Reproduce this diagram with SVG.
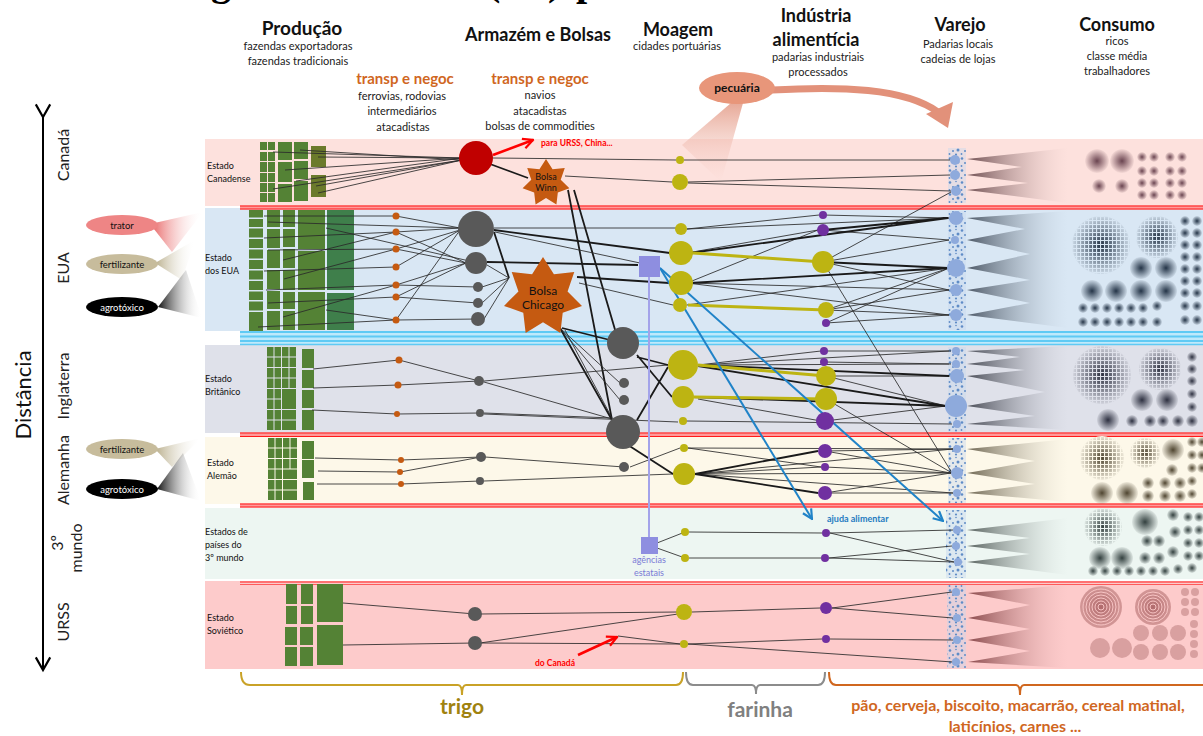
<svg xmlns="http://www.w3.org/2000/svg" width="1203" height="736" viewBox="0 0 1203 736">
<style>
  text { font-family: Lato, "Open Sans", "Liberation Sans", sans-serif; fill: #111; }
  .h { font-size: 18px; font-weight: bold; text-anchor: middle; }
  .s { font-size: 11px; text-anchor: middle; fill: #222; }
  .tn { font-size: 15px; font-weight: bold; text-anchor: middle; fill: #d0671f; }
  .st { font-size: 9px; fill: #111; }
  .cty { font-size: 16px; text-anchor: middle; fill: #222; }
  .ttl { font-family: "Liberation Serif", serif; font-size: 40px; font-weight: bold; fill: #000; }
  .f { fill: #548235; }
  .fd { fill: #3f7f4b; }
  .fo { fill: #6b7a2b; }
  .l { stroke: #2a2a2a; stroke-width: 1; fill: none; stroke-opacity: 0.85; }
  .m { stroke: #1a1a1a; stroke-width: 1.8; fill: none; }
  .ol { stroke: #bdb412; stroke-width: 3; fill: none; }
  .bl { stroke: #2083c8; stroke-width: 2; fill: none; }
  .gr { fill: #595959; }
  .od { fill: #c55a11; }
  .ov { fill: #bdb412; }
  .pu { fill: #7030a0; }
  .bv { fill: #8eaadc; }
  .ag { fill: #8e8ee0; }
</style>
<defs>
  <polygon id="star" points="0,-10 2.73,-5.68 7.82,-6.23 6.14,-1.4 9.75,2.22 4.93,3.93 4.34,9.01 0,6.3 -4.34,9.01 -4.93,3.93 -9.75,2.22 -6.14,-1.4 -7.82,-6.23 -2.73,-5.68"/>
  <pattern id="speck" width="12" height="12" patternUnits="userSpaceOnUse">
    <rect width="12" height="12" fill="#c9d8ee" opacity="0.45"/>
    <circle cx="2" cy="2.5" r="1.3" fill="#5f8cc6"/>
    <circle cx="8" cy="1.5" r="0.8" fill="#5f8cc6"/>
    <circle cx="10" cy="6" r="1.5" fill="#5f8cc6"/>
    <circle cx="5" cy="7" r="1" fill="#5f8cc6"/>
    <circle cx="1.5" cy="10" r="0.9" fill="#5f8cc6"/>
    <circle cx="8" cy="10.5" r="1.1" fill="#5f8cc6"/>
  </pattern>
  <linearGradient id="wCa" x1="0" x2="1" y1="0" y2="0"><stop offset="0" stop-color="#6f4f52"/><stop offset="1" stop-color="#fde1dd" stop-opacity="0.2"/></linearGradient>
  <linearGradient id="wUs" x1="0" x2="1" y1="0" y2="0"><stop offset="0" stop-color="#4d5866"/><stop offset="1" stop-color="#d9e7f4" stop-opacity="0.2"/></linearGradient>
  <linearGradient id="wUk" x1="0" x2="1" y1="0" y2="0"><stop offset="0" stop-color="#4a4d57"/><stop offset="1" stop-color="#dfe1ea" stop-opacity="0.2"/></linearGradient>
  <linearGradient id="wDe" x1="0" x2="1" y1="0" y2="0"><stop offset="0" stop-color="#6e6652"/><stop offset="1" stop-color="#fdf8e9" stop-opacity="0.2"/></linearGradient>
  <linearGradient id="wTw" x1="0" x2="1" y1="0" y2="0"><stop offset="0" stop-color="#56605d"/><stop offset="1" stop-color="#edf6f2" stop-opacity="0.2"/></linearGradient>
  <linearGradient id="wSu" x1="0" x2="1" y1="0" y2="0"><stop offset="0" stop-color="#8a4a4c"/><stop offset="1" stop-color="#fdcbcb" stop-opacity="0.2"/></linearGradient>
  <radialGradient id="cCa"><stop offset="0" stop-color="#6a4450"/><stop offset="1" stop-color="#6a4450" stop-opacity="0.05"/></radialGradient>
  <radialGradient id="cUs"><stop offset="0" stop-color="#243447"/><stop offset="1" stop-color="#243447" stop-opacity="0.08"/></radialGradient>
  <radialGradient id="cUk"><stop offset="0" stop-color="#2d3040"/><stop offset="1" stop-color="#2d3040" stop-opacity="0.08"/></radialGradient>
  <radialGradient id="cDe"><stop offset="0" stop-color="#4f4530"/><stop offset="1" stop-color="#4f4530" stop-opacity="0.08"/></radialGradient>
  <radialGradient id="cTw"><stop offset="0" stop-color="#33403f"/><stop offset="1" stop-color="#33403f" stop-opacity="0.08"/></radialGradient>
  <radialGradient id="cSu"><stop offset="0" stop-color="#b06a6c"/><stop offset="1" stop-color="#c98a8a" stop-opacity="0.8"/></radialGradient>
  <pattern id="gUs" width="4" height="4" patternUnits="userSpaceOnUse"><path d="M0 0.5H4M0.5 0V4" stroke="#d9e7f4" stroke-width="1.2"/></pattern>
  <pattern id="gUk" width="4" height="4" patternUnits="userSpaceOnUse"><path d="M0 0.5H4M0.5 0V4" stroke="#dfe1ea" stroke-width="1.2"/></pattern>
  <pattern id="gDe" width="4" height="4" patternUnits="userSpaceOnUse"><path d="M0 0.5H4M0.5 0V4" stroke="#fdf8e9" stroke-width="1.2"/></pattern>
  <pattern id="gTw" width="4" height="4" patternUnits="userSpaceOnUse"><path d="M0 0.5H4M0.5 0V4" stroke="#edf6f2" stroke-width="1.2"/></pattern>
  <linearGradient id="fTr" x1="0" x2="1" y1="0" y2="0"><stop offset="0" stop-color="#e65b5b"/><stop offset="1" stop-color="#ffffff" stop-opacity="0"/></linearGradient>
  <linearGradient id="fFe" x1="0" x2="1" y1="0" y2="0"><stop offset="0" stop-color="#b8ad8a"/><stop offset="1" stop-color="#ffffff" stop-opacity="0"/></linearGradient>
  <linearGradient id="fAg" x1="0" x2="1" y1="0" y2="0"><stop offset="0" stop-color="#111"/><stop offset="1" stop-color="#ffffff" stop-opacity="0"/></linearGradient>
  <linearGradient id="fPe" x1="0" x2="0" y1="0" y2="1"><stop offset="0" stop-color="#e39a86"/><stop offset="1" stop-color="#fde1dd" stop-opacity="0.3"/></linearGradient>
  <marker id="ab" viewBox="0 0 10 10" refX="9" refY="5" markerWidth="6" markerHeight="6" orient="auto"><path d="M1 1L9 5L1 9" fill="none" stroke="#2083c8" stroke-width="1.8"/></marker>
  <marker id="ar" viewBox="0 0 10 10" refX="9" refY="5" markerWidth="5" markerHeight="5" orient="auto"><path d="M1 1L9 5L1 9" fill="none" stroke="#ff0000" stroke-width="1.8"/></marker>
  <marker id="ak" viewBox="0 0 10 10" refX="8" refY="5" markerWidth="9" markerHeight="9" orient="auto"><path d="M1 1L8 5L1 9" fill="none" stroke="#000" stroke-width="1.2"/></marker>
</defs>

<rect width="1203" height="736" fill="#ffffff"/>

<!-- title line, mostly above the top edge -->
<g id="title">
  <text class="ttl" x="211" y="-5">g</text>
  <text class="ttl" x="487" y="-5">(</text>
  <text class="ttl" x="548" y="-5">)</text>
  <text class="ttl" x="576" y="-5">p</text>
</g>

<!-- column headers -->
<g id="headers">
  <text class="h" x="302" y="35" style="font-size:19px">Produção</text>
  <text class="s" x="298" y="50">fazendas exportadoras</text>
  <text class="s" x="298" y="65">fazendas tradicionais</text>
  <text class="h" x="538" y="41">Armazém e Bolsas</text>
  <text class="tn" x="405" y="84">transp e negoc</text>
  <text class="s" x="402" y="100">ferrovias, rodovias</text>
  <text class="s" x="402" y="115">intermediários</text>
  <text class="s" x="403" y="131">atacadistas</text>
  <text class="tn" x="540" y="84">transp e negoc</text>
  <text class="s" x="540" y="99">navios</text>
  <text class="s" x="540" y="115">atacadistas</text>
  <text class="s" x="540" y="130">bolsas de commodities</text>
  <text class="h" x="678" y="36">Moagem</text>
  <text class="s" x="677" y="50">cidades portuárias</text>
  <text class="h" x="816" y="22">Indústria</text>
  <text class="h" x="816" y="46">alimentícia</text>
  <text class="s" x="818" y="61">padarias industriais</text>
  <text class="s" x="818" y="76">processados</text>
  <text class="h" x="960" y="31">Varejo</text>
  <text class="s" x="958" y="48">Padarias locais</text>
  <text class="s" x="958" y="63">cadeias de lojas</text>
  <text class="h" x="1117" y="31">Consumo</text>
  <text class="s" x="1117" y="45">ricos</text>
  <text class="s" x="1117" y="60">classe média</text>
  <text class="s" x="1117" y="75">trabalhadores</text>
</g>

<!-- distance axis and country names -->
<g id="axis">
  <line x1="43" y1="117" x2="43" y2="670" stroke="#000" stroke-width="2" marker-start="url(#ak)" marker-end="url(#ak)"/>
  <text x="31" y="395" transform="rotate(-90 31 395)" text-anchor="middle" style="font-size:22px;fill:#111">Distância</text>
  <text class="cty" x="69" y="155" transform="rotate(-90 69 155)">Canadá</text>
  <text class="cty" x="69" y="268" transform="rotate(-90 69 268)">EUA</text>
  <text class="cty" x="69" y="386" transform="rotate(-90 69 386)">Inglaterra</text>
  <text class="cty" x="69" y="470" transform="rotate(-90 69 470)">Alemanha</text>
  <text class="cty" x="63" y="543" transform="rotate(-90 63 543)">3º</text>
  <text class="cty" x="82" y="548" transform="rotate(-90 82 548)">mundo</text>
  <text class="cty" x="69" y="622" transform="rotate(-90 69 622)">URSS</text>
</g>

<!-- country bands -->
<g id="bands">
  <rect x="205" y="139" width="998" height="67" fill="#fde1dd"/>
  <rect x="205" y="208" width="998" height="123" fill="#d9e7f4"/>
  <rect x="205" y="345" width="998" height="88" fill="#dfe1ea"/>
  <rect x="205" y="437" width="998" height="67" fill="#fdf8e9"/>
  <rect x="205" y="508" width="998" height="71" fill="#edf6f2"/>
  <rect x="205" y="581" width="998" height="88" fill="#fdcbcb"/>
  <rect x="240" y="205.5" width="963" height="4" fill="#ff9a9a"/>
  <line x1="240" y1="206" x2="1203" y2="206" stroke="#ff1a1a" stroke-width="1.2"/>
  <line x1="240" y1="209" x2="1203" y2="209" stroke="#ff1a1a" stroke-width="1"/>
  <rect x="240" y="331" width="963" height="14" fill="#bfe9fb"/>
  <line x1="240" y1="332" x2="1203" y2="332" stroke="#5fcaf4" stroke-width="2"/>
  <line x1="240" y1="336.5" x2="1203" y2="336.5" stroke="#5fcaf4" stroke-width="2"/>
  <line x1="240" y1="341" x2="1203" y2="341" stroke="#5fcaf4" stroke-width="2"/>
  <line x1="240" y1="344.5" x2="1203" y2="344.5" stroke="#5fcaf4" stroke-width="1.5"/>
  <rect x="240" y="432.5" width="963" height="4.5" fill="#ff9a9a"/>
  <line x1="240" y1="433" x2="1203" y2="433" stroke="#ff1a1a" stroke-width="1.2"/>
  <line x1="240" y1="436.5" x2="1203" y2="436.5" stroke="#ff1a1a" stroke-width="1"/>
  <rect x="240" y="503.5" width="963" height="4" fill="#ff9a9a"/>
  <line x1="240" y1="504" x2="1203" y2="504" stroke="#ff1a1a" stroke-width="1.2"/>
  <line x1="240" y1="507" x2="1203" y2="507" stroke="#ff1a1a" stroke-width="1"/>
  <line x1="240" y1="582" x2="1203" y2="582" stroke="#ff1a1a" stroke-width="1.2"/>
  <line x1="240" y1="584.5" x2="1203" y2="584.5" stroke="#ff5a5a" stroke-width="1"/>
  <text class="st" x="207" y="169">Estado</text>
  <text class="st" x="207" y="182">Canadense</text>
  <text class="st" x="205" y="261">Estado</text>
  <text class="st" x="205" y="274">dos EUA</text>
  <text class="st" x="205" y="382">Estado</text>
  <text class="st" x="205" y="395">Britânico</text>
  <text class="st" x="207" y="466">Estado</text>
  <text class="st" x="207" y="479">Alemão</text>
  <text class="st" x="205" y="535">Estados de</text>
  <text class="st" x="205" y="548">países do</text>
  <text class="st" x="205" y="561">3º mundo</text>
  <text class="st" x="207" y="621">Estado</text>
  <text class="st" x="207" y="634">Soviético</text>
</g>

<!-- agricultural inputs -->
<g id="inputs">
  <polygon points="150,224 203,212 172,252" fill="url(#fTr)"/>
  <polygon points="155,263 195,240 182,280" fill="url(#fFe)"/>
  <polygon points="158,307 186,270 202,318" fill="url(#fAg)"/>
  <polygon points="155,449 201,438 172,467" fill="url(#fFe)"/>
  <polygon points="157,489 183,453 201,501" fill="url(#fAg)"/>
  <g id="trator"><ellipse cx="122" cy="225" rx="36" ry="10" fill="#ee8585"/><text x="122" y="228.5" text-anchor="middle" style="font-size:9.5px">trator</text></g>
  <g id="fertilizante-eua"><ellipse cx="122" cy="264" rx="36" ry="10" fill="#c7bc9c"/><text x="122" y="267.5" text-anchor="middle" style="font-size:9.5px">fertilizante</text></g>
  <g id="agrotoxico-eua"><ellipse cx="122" cy="307" rx="36" ry="10" fill="#000"/><text x="122" y="310.5" text-anchor="middle" style="font-size:9.5px;fill:#fff">agrotóxico</text></g>
  <g id="fertilizante-al"><ellipse cx="122" cy="449" rx="36" ry="10" fill="#c7bc9c"/><text x="122" y="452.5" text-anchor="middle" style="font-size:9.5px">fertilizante</text></g>
  <g id="agrotoxico-al"><ellipse cx="122" cy="489" rx="36" ry="10" fill="#000"/><text x="122" y="492.5" text-anchor="middle" style="font-size:9.5px;fill:#fff">agrotóxico</text></g>
</g>

<!-- farms -->
<g id="farms">
  <g id="farms-ca">
    <rect class="f" x="260" y="142" width="7" height="8"/><rect class="f" x="260" y="152" width="7" height="9"/><rect class="f" x="260" y="162" width="7" height="10"/><rect class="f" x="260" y="173" width="7" height="9"/><rect class="f" x="260" y="183" width="7" height="9"/><rect class="f" x="260" y="193" width="7" height="9"/>
    <rect class="f" x="268" y="142" width="7" height="8"/><rect class="f" x="268" y="152" width="7" height="9"/><rect class="f" x="268" y="162" width="7" height="10"/><rect class="f" x="268" y="173" width="7" height="9"/><rect class="f" x="268" y="183" width="7" height="9"/><rect class="f" x="268" y="193" width="7" height="9"/>
    <rect class="f" x="278" y="142" width="14" height="18"/><rect class="f" x="278" y="162" width="14" height="20"/><rect class="f" x="278" y="184" width="14" height="18"/>
    <rect class="f" x="294" y="142" width="14" height="17"/><rect class="f" x="294" y="161" width="14" height="18"/><rect class="f" x="294" y="181" width="14" height="20"/>
    <rect class="fo" x="311" y="146" width="15" height="21"/><rect class="fo" x="311" y="175" width="15" height="22"/>
  </g>
  <g id="farms-us">
    <rect class="f" x="249" y="210" width="14" height="7.5"/><rect class="f" x="249" y="219" width="14" height="8"/><rect class="f" x="249" y="228.5" width="14" height="9"/><rect class="f" x="249" y="239" width="14" height="9"/><rect class="f" x="249" y="249.5" width="14" height="9"/><rect class="f" x="249" y="260" width="14" height="9"/><rect class="f" x="249" y="270.5" width="14" height="9"/><rect class="f" x="249" y="281" width="14" height="9"/><rect class="f" x="249" y="291.5" width="14" height="8.5"/><rect class="f" x="249" y="301.5" width="14" height="9"/><rect class="f" x="249" y="312" width="14" height="19"/>
    <rect class="f" x="267" y="210" width="13" height="17"/><rect class="f" x="267" y="229" width="13" height="19"/><rect class="f" x="267" y="250" width="13" height="18"/><rect class="f" x="267" y="270" width="13" height="19"/><rect class="f" x="267" y="291" width="13" height="18"/><rect class="f" x="267" y="311" width="13" height="19"/>
    <rect class="f" x="283" y="210" width="12" height="17"/><rect class="f" x="283" y="229" width="12" height="18"/><rect class="f" x="283" y="249" width="12" height="19"/><rect class="f" x="283" y="270" width="12" height="20"/><rect class="f" x="283" y="292" width="12" height="17"/><rect class="f" x="283" y="311" width="12" height="19"/>
    <rect class="f" x="298" y="210" width="27" height="39"/><rect class="f" x="298" y="251" width="27" height="39"/><rect class="f" x="298" y="292" width="27" height="38"/>
    <rect class="fd" x="327" y="210" width="27" height="80"/><rect class="fd" x="327" y="293" width="27" height="37"/>
  </g>
  <g id="farms-uk">
    <rect class="f" x="267" y="347" width="6.5" height="9.5"/><rect class="f" x="274.5" y="347" width="6.5" height="9.5"/><rect class="f" x="282" y="347" width="6.5" height="9.5"/><rect class="f" x="289.5" y="347" width="6.5" height="9.5"/>
    <rect class="f" x="267" y="357.5" width="6.5" height="9.5"/><rect class="f" x="274.5" y="357.5" width="6.5" height="9.5"/><rect class="f" x="282" y="357.5" width="6.5" height="9.5"/><rect class="f" x="289.5" y="357.5" width="6.5" height="9.5"/>
    <rect class="f" x="267" y="368" width="6.5" height="9.5"/><rect class="f" x="274.5" y="368" width="6.5" height="9.5"/><rect class="f" x="282" y="368" width="6.5" height="9.5"/><rect class="f" x="289.5" y="368" width="6.5" height="9.5"/>
    <rect class="f" x="267" y="378.5" width="6.5" height="9.5"/><rect class="f" x="274.5" y="378.5" width="6.5" height="9.5"/><rect class="f" x="282" y="378.5" width="6.5" height="9.5"/><rect class="f" x="289.5" y="378.5" width="6.5" height="9.5"/>
    <rect class="f" x="267" y="389" width="6.5" height="9.5"/><rect class="f" x="274.5" y="389" width="6.5" height="9.5"/><rect class="f" x="282" y="389" width="14" height="20"/>
    <rect class="f" x="267" y="399.5" width="6.5" height="9.5"/><rect class="f" x="274.5" y="399.5" width="6.5" height="9.5"/>
    <rect class="f" x="267" y="410" width="6.5" height="9.5"/><rect class="f" x="274.5" y="410" width="6.5" height="9.5"/><rect class="f" x="282" y="410" width="14" height="9.5"/>
    <rect class="f" x="267" y="420.5" width="6.5" height="9.5"/><rect class="f" x="274.5" y="420.5" width="6.5" height="9.5"/><rect class="f" x="282" y="420.5" width="14" height="9.5"/>
    <rect class="f" x="302" y="349" width="12" height="19"/><rect class="f" x="302" y="370" width="12" height="18"/><rect class="f" x="302" y="390" width="12" height="18"/><rect class="f" x="302" y="410" width="12" height="20"/>
  </g>
  <g id="farms-de">
    <rect class="f" x="268" y="438" width="6.5" height="9.5"/><rect class="f" x="275.5" y="438" width="6.5" height="9.5"/><rect class="f" x="283" y="438" width="6.5" height="9.5"/><rect class="f" x="290.5" y="438" width="6.5" height="9.5"/>
    <rect class="f" x="268" y="448.5" width="6.5" height="9.5"/><rect class="f" x="275.5" y="448.5" width="6.5" height="9.5"/><rect class="f" x="283" y="448.5" width="6.5" height="9.5"/><rect class="f" x="290.5" y="448.5" width="6.5" height="9.5"/>
    <rect class="f" x="268" y="459" width="6.5" height="9.5"/><rect class="f" x="275.5" y="459" width="6.5" height="9.5"/><rect class="f" x="283" y="459" width="6.5" height="9.5"/><rect class="f" x="290.5" y="459" width="6.5" height="9.5"/>
    <rect class="f" x="268" y="469.5" width="6.5" height="9.5"/><rect class="f" x="275.5" y="469.5" width="6.5" height="9.5"/><rect class="f" x="283" y="469.5" width="14" height="9.5"/>
    <rect class="f" x="268" y="480" width="6.5" height="9.5"/><rect class="f" x="275.5" y="480" width="6.5" height="9.5"/><rect class="f" x="283" y="480" width="14" height="9.5"/>
    <rect class="f" x="268" y="490.5" width="6.5" height="9.5"/><rect class="f" x="275.5" y="490.5" width="6.5" height="9.5"/><rect class="f" x="283" y="490.5" width="14" height="9.5"/>
    <rect class="f" x="302" y="441" width="12" height="18"/><rect class="f" x="302" y="460" width="12" height="18"/><rect class="f" x="303" y="482" width="11" height="18"/>
  </g>
  <g id="farms-su">
    <rect class="f" x="286" y="584" width="11" height="20"/><rect class="f" x="301" y="584" width="12" height="20"/>
    <rect class="f" x="286" y="606" width="11" height="18"/><rect class="f" x="301" y="606" width="12" height="18"/>
    <rect class="f" x="285" y="627" width="12" height="18"/><rect class="f" x="300" y="627" width="13" height="18"/>
    <rect class="f" x="285" y="647" width="12" height="19"/><rect class="f" x="300" y="647" width="13" height="19"/>
    <rect class="f" x="317" y="584" width="26" height="38"/><rect class="f" x="317" y="625" width="26" height="40"/>
  </g>
</g>

<!-- livestock feed -->
<g id="pecuaria">
  <polygon points="731,103 743,103 721,182 682,145" fill="url(#fPe)" opacity="0.85"/>
  <path d="M772 90 C840 86 905 88 938 112" fill="none" stroke="#e2917a" stroke-width="7"/>
  <polygon points="926,114 953,102 948,128" fill="#e2917a"/>
  <ellipse cx="737" cy="88" rx="38" ry="16" fill="#e8967a"/>
  <text x="737" y="92" text-anchor="middle" style="font-size:12px;font-weight:bold">pecuária</text>
</g>

<!-- retail columns -->
<g id="varejo-cols">
  <rect x="948" y="148" width="18" height="55" fill="url(#speck)"/>
  <rect x="948" y="211" width="18" height="119" fill="url(#speck)"/>
  <rect x="948" y="347" width="18" height="85" fill="url(#speck)"/>
  <rect x="948" y="438" width="18" height="65" fill="url(#speck)"/>
  <rect x="946" y="510" width="20" height="68" fill="url(#speck)"/>
  <rect x="947" y="585" width="19" height="83" fill="url(#speck)"/>
</g>

<!-- consumption wedges -->
<g id="wedges">
  <polygon points="1068,148 967,159 1022,167 967,175 1028,183 967,190 1068,203" fill="url(#wCa)"/>
  <polygon points="1068,211 967,218 1025,229 967,240 1030,254 967,268 1030,280 967,290 1030,303 967,315 1068,328" fill="url(#wUs)"/>
  <polygon points="1068,346 967,351 1020,357 967,364 1025,370 967,376 1045,392 967,406 1035,416 967,424 1068,430" fill="url(#wUk)"/>
  <polygon points="1068,439 967,449 1035,461 967,473 1035,484 967,493 1068,502" fill="url(#wDe)"/>
  <polygon points="1068,518 967,530 1030,538 967,546 1030,554 967,562 1068,575" fill="url(#wTw)"/>
  <polygon points="1068,585 968,593 1030,605 968,618 1030,629 968,640 1030,651 968,662 1068,668" fill="url(#wSu)"/>
</g>

<!-- consumption clusters -->
<g id="consumo">
  <g id="consumo-ca">
    <circle cx="1097" cy="161" r="12" fill="url(#cCa)"/><circle cx="1122" cy="161" r="12" fill="url(#cCa)"/>
    <circle cx="1099" cy="186" r="7" fill="url(#cCa)"/><circle cx="1122" cy="186" r="7" fill="url(#cCa)"/>
    <circle cx="1142" cy="157" r="5" fill="url(#cCa)"/><circle cx="1154" cy="157" r="5" fill="url(#cCa)"/><circle cx="1170" cy="157" r="5" fill="url(#cCa)"/><circle cx="1182" cy="157" r="5" fill="url(#cCa)"/>
    <circle cx="1142" cy="171" r="5" fill="url(#cCa)"/><circle cx="1154" cy="171" r="5" fill="url(#cCa)"/><circle cx="1170" cy="171" r="5" fill="url(#cCa)"/><circle cx="1182" cy="171" r="5" fill="url(#cCa)"/>
    <circle cx="1142" cy="183" r="5" fill="url(#cCa)"/><circle cx="1154" cy="183" r="5" fill="url(#cCa)"/><circle cx="1170" cy="183" r="5" fill="url(#cCa)"/><circle cx="1182" cy="183" r="5" fill="url(#cCa)"/>
    <circle cx="1142" cy="195" r="5" fill="url(#cCa)"/><circle cx="1154" cy="195" r="5" fill="url(#cCa)"/><circle cx="1170" cy="195" r="5" fill="url(#cCa)"/><circle cx="1182" cy="195" r="5" fill="url(#cCa)"/>
  </g>
  <g id="consumo-us">
    <circle cx="1101" cy="245" r="29" fill="url(#cUs)"/><circle cx="1101" cy="245" r="29" fill="url(#gUs)"/>
    <circle cx="1157" cy="237" r="21" fill="url(#cUs)"/><circle cx="1157" cy="237" r="21" fill="url(#gUs)"/>
    <circle cx="1141" cy="268" r="11" fill="url(#cUs)"/><circle cx="1166" cy="268" r="11" fill="url(#cUs)"/>
    <circle cx="1092" cy="291" r="11" fill="url(#cUs)"/><circle cx="1116" cy="291" r="11" fill="url(#cUs)"/><circle cx="1141" cy="291" r="11" fill="url(#cUs)"/><circle cx="1166" cy="291" r="11" fill="url(#cUs)"/>
    <circle cx="1083" cy="308" r="5" fill="url(#cUs)"/><circle cx="1095" cy="308" r="5" fill="url(#cUs)"/><circle cx="1107" cy="308" r="5" fill="url(#cUs)"/><circle cx="1119" cy="308" r="5" fill="url(#cUs)"/><circle cx="1131" cy="308" r="5" fill="url(#cUs)"/><circle cx="1143" cy="308" r="5" fill="url(#cUs)"/><circle cx="1157" cy="306" r="5" fill="url(#cUs)"/>
    <circle cx="1083" cy="322" r="5" fill="url(#cUs)"/><circle cx="1095" cy="322" r="5" fill="url(#cUs)"/><circle cx="1107" cy="322" r="5" fill="url(#cUs)"/><circle cx="1119" cy="322" r="5" fill="url(#cUs)"/><circle cx="1131" cy="322" r="5" fill="url(#cUs)"/><circle cx="1143" cy="322" r="5" fill="url(#cUs)"/><circle cx="1157" cy="322" r="5" fill="url(#cUs)"/>
    <circle cx="1185" cy="221" r="5" fill="url(#cUs)"/><circle cx="1197" cy="221" r="5" fill="url(#cUs)"/><circle cx="1185" cy="233" r="5" fill="url(#cUs)"/><circle cx="1197" cy="233" r="5" fill="url(#cUs)"/><circle cx="1185" cy="245" r="5" fill="url(#cUs)"/><circle cx="1197" cy="245" r="5" fill="url(#cUs)"/><circle cx="1185" cy="257" r="5" fill="url(#cUs)"/><circle cx="1197" cy="257" r="5" fill="url(#cUs)"/><circle cx="1185" cy="269" r="5" fill="url(#cUs)"/><circle cx="1197" cy="269" r="5" fill="url(#cUs)"/><circle cx="1185" cy="281" r="5" fill="url(#cUs)"/><circle cx="1197" cy="281" r="5" fill="url(#cUs)"/><circle cx="1185" cy="293" r="5" fill="url(#cUs)"/><circle cx="1197" cy="293" r="5" fill="url(#cUs)"/><circle cx="1185" cy="306" r="5" fill="url(#cUs)"/><circle cx="1197" cy="306" r="5" fill="url(#cUs)"/><circle cx="1185" cy="320" r="5" fill="url(#cUs)"/><circle cx="1197" cy="320" r="5" fill="url(#cUs)"/>
  </g>
  <g id="consumo-uk">
    <circle cx="1102" cy="375" r="29" fill="url(#cUk)"/><circle cx="1102" cy="375" r="29" fill="url(#gUk)"/>
    <circle cx="1160" cy="369" r="21" fill="url(#cUk)"/><circle cx="1160" cy="369" r="21" fill="url(#gUk)"/>
    <circle cx="1142" cy="400" r="11" fill="url(#cUk)"/><circle cx="1167" cy="400" r="11" fill="url(#cUk)"/>
    <circle cx="1108" cy="420" r="11" fill="url(#cUk)"/>
    <circle cx="1132" cy="421" r="6" fill="url(#cUk)"/><circle cx="1150" cy="421" r="6" fill="url(#cUk)"/><circle cx="1163" cy="421" r="6" fill="url(#cUk)"/><circle cx="1178" cy="421" r="6" fill="url(#cUk)"/><circle cx="1192" cy="421" r="6" fill="url(#cUk)"/>
    <circle cx="1192" cy="357" r="5" fill="url(#cUk)"/><circle cx="1192" cy="369" r="5" fill="url(#cUk)"/><circle cx="1192" cy="381" r="5" fill="url(#cUk)"/><circle cx="1192" cy="394" r="5" fill="url(#cUk)"/><circle cx="1192" cy="407" r="5" fill="url(#cUk)"/>
  </g>
  <g id="consumo-de">
    <circle cx="1102" cy="458" r="22" fill="url(#cDe)"/><circle cx="1102" cy="458" r="22" fill="url(#gDe)"/>
    <circle cx="1145" cy="453" r="15" fill="url(#cDe)"/><circle cx="1145" cy="453" r="15" fill="url(#gDe)"/>
    <circle cx="1173" cy="450" r="11" fill="url(#cDe)"/><circle cx="1172" cy="470" r="6" fill="url(#cDe)"/>
    <circle cx="1102" cy="493" r="11" fill="url(#cDe)"/><circle cx="1127" cy="493" r="11" fill="url(#cDe)"/>
    <circle cx="1148" cy="483" r="6" fill="url(#cDe)"/><circle cx="1165" cy="483" r="6" fill="url(#cDe)"/><circle cx="1180" cy="483" r="6" fill="url(#cDe)"/>
    <circle cx="1148" cy="496" r="6" fill="url(#cDe)"/><circle cx="1165" cy="496" r="6" fill="url(#cDe)"/><circle cx="1180" cy="496" r="6" fill="url(#cDe)"/>
    <circle cx="1192" cy="442" r="5" fill="url(#cDe)"/><circle cx="1202" cy="442" r="5" fill="url(#cDe)"/><circle cx="1192" cy="455" r="5" fill="url(#cDe)"/><circle cx="1202" cy="455" r="5" fill="url(#cDe)"/><circle cx="1192" cy="468" r="5" fill="url(#cDe)"/><circle cx="1202" cy="468" r="5" fill="url(#cDe)"/><circle cx="1192" cy="481" r="5" fill="url(#cDe)"/><circle cx="1192" cy="494" r="5" fill="url(#cDe)"/>
  </g>
  <g id="consumo-tw">
    <circle cx="1103" cy="527" r="19" fill="url(#cTw)"/><circle cx="1103" cy="527" r="19" fill="url(#gTw)"/>
    <circle cx="1145" cy="522" r="13" fill="url(#cTw)"/>
    <circle cx="1173" cy="515" r="6" fill="url(#cTw)"/><circle cx="1175" cy="532" r="6" fill="url(#cTw)"/>
    <circle cx="1147" cy="541" r="6" fill="url(#cTw)"/><circle cx="1159" cy="541" r="6" fill="url(#cTw)"/>
    <circle cx="1100" cy="558" r="11" fill="url(#cTw)"/><circle cx="1122" cy="558" r="11" fill="url(#cTw)"/>
    <circle cx="1145" cy="558" r="6" fill="url(#cTw)"/><circle cx="1159" cy="558" r="6" fill="url(#cTw)"/><circle cx="1173" cy="552" r="6" fill="url(#cTw)"/>
    <circle cx="1093" cy="571" r="5" fill="url(#cTw)"/><circle cx="1105" cy="571" r="5" fill="url(#cTw)"/><circle cx="1117" cy="571" r="5" fill="url(#cTw)"/><circle cx="1129" cy="571" r="5" fill="url(#cTw)"/><circle cx="1141" cy="571" r="5" fill="url(#cTw)"/><circle cx="1153" cy="571" r="5" fill="url(#cTw)"/><circle cx="1165" cy="571" r="5" fill="url(#cTw)"/><circle cx="1178" cy="569" r="5" fill="url(#cTw)"/>
    <circle cx="1188" cy="517" r="5" fill="url(#cTw)"/><circle cx="1199" cy="517" r="5" fill="url(#cTw)"/><circle cx="1188" cy="530" r="5" fill="url(#cTw)"/><circle cx="1199" cy="530" r="5" fill="url(#cTw)"/><circle cx="1188" cy="543" r="5" fill="url(#cTw)"/><circle cx="1199" cy="543" r="5" fill="url(#cTw)"/><circle cx="1188" cy="556" r="5" fill="url(#cTw)"/><circle cx="1199" cy="556" r="5" fill="url(#cTw)"/><circle cx="1192" cy="568" r="5" fill="url(#cTw)"/>
  </g>
  <g id="consumo-su">
    <circle cx="1101" cy="607" r="21" fill="url(#cSu)"/>
    <g fill="none" stroke="#fdcbcb" stroke-width="0.9"><circle cx="1101" cy="607" r="3"/><circle cx="1101" cy="607" r="6"/><circle cx="1101" cy="607" r="9"/><circle cx="1101" cy="607" r="12"/><circle cx="1101" cy="607" r="15"/><circle cx="1101" cy="607" r="18"/></g>
    <circle cx="1153" cy="607" r="18" fill="url(#cSu)"/>
    <g fill="none" stroke="#fdcbcb" stroke-width="0.9"><circle cx="1153" cy="607" r="3"/><circle cx="1153" cy="607" r="6"/><circle cx="1153" cy="607" r="9"/><circle cx="1153" cy="607" r="12"/><circle cx="1153" cy="607" r="15"/></g>
    <circle cx="1100" cy="648" r="10" fill="#d9a0a0"/><circle cx="1122" cy="648" r="10" fill="#d9a0a0"/>
    <circle cx="1141" cy="633" r="8" fill="#d9a0a0"/><circle cx="1160" cy="633" r="8" fill="#d9a0a0"/><circle cx="1178" cy="633" r="8" fill="#d9a0a0"/>
    <circle cx="1141" cy="652" r="8" fill="#d9a0a0"/><circle cx="1160" cy="652" r="8" fill="#d9a0a0"/><circle cx="1178" cy="652" r="8" fill="#d9a0a0"/>
    <circle cx="1185" cy="592" r="4" fill="#d9a0a0"/><circle cx="1195" cy="592" r="4" fill="#d9a0a0"/><circle cx="1185" cy="602" r="4" fill="#d9a0a0"/><circle cx="1195" cy="602" r="4" fill="#d9a0a0"/><circle cx="1185" cy="612" r="4" fill="#d9a0a0"/><circle cx="1195" cy="612" r="4" fill="#d9a0a0"/><circle cx="1194" cy="624" r="4" fill="#d9a0a0"/><circle cx="1194" cy="634" r="4" fill="#d9a0a0"/><circle cx="1194" cy="644" r="4" fill="#d9a0a0"/><circle cx="1194" cy="654" r="4" fill="#d9a0a0"/>
  </g>
</g>

<!-- flows -->
<g id="connectors">
  <!-- Canada -->
  <path class="l" d="M273 152L462 158M285 170L462 158M300 150L462 160M318 157L462 158M273 189L462 160M296 181L462 158M316 186L462 160M318 193L462 160"/>
  <path class="m" d="M490 164L528 178"/>
  <path class="l" d="M493 158L676 160M565 176L672 182M684 160L950 160M688 182L950 175M688 183L951 191"/>
  <path class="m" d="M568 190L612 420M574 190L616 333"/>
  <!-- USA farms to collection points -->
  <path class="l" d="M264 216L396 216M264 238L396 232M268 250L396 249M283 260L396 232M264 271L396 267M284 279L396 249M266 290L396 285M268 303L396 297M283 317L396 285M258 327L396 320M326 310L396 320M268 222L460 228M326 228L478 263"/>
  <path class="l" d="M396 216L460 228M396 232L460 228M396 249L460 230M396 267L460 230M396 232L466 263M396 285L466 263M396 297L466 263M396 320L460 230M396 285L478 287M396 297L478 303M396 320L478 319M396 249L466 263"/>
  <path class="m" d="M494 232L509 278M487 262L638 265M494 230L670 253"/>
  <path class="l" d="M494 228L676 228M487 265L509 278M482 287L509 278M482 303L509 278M484 319L509 278M495 232L640 263"/>
  <path class="m" d="M577 277L669 283"/>
  <path class="l" d="M579 283L673 305"/>
  <!-- Chicago to Britain -->
  <path class="m" d="M560 328L612 420M562 328L610 340"/>
  <path class="l" d="M560 328L620 383M560 328L620 400M565 330L612 418"/>
  <!-- USA right side -->
  <path class="l" d="M687 229L819 215M687 229L949 218M687 253L818 230M687 283L818 230M687 283L949 290M687 283L949 315M687 305L949 268M823 215L949 218M823 230L949 240M823 262L949 240M823 262L949 290M823 262L951 192M823 262L952 473M826 310L949 268M826 310L949 290M826 310L949 315M826 323L949 315M826 323L949 268"/>
  <path class="m" d="M690 253L948 218M690 283L948 268M823 230L948 218M823 262L948 268"/>
  <path class="ol" d="M693 253L823 262M688 305L826 310"/>
  <!-- Britain -->
  <path class="l" d="M313 369L399 360M313 388L398 385M312 410L397 414M399 360L479 381M398 385L479 381M397 414L480 413M484 381L668 365M484 382L612 419M484 413L612 418M484 414L678 422"/>
  <path class="m" d="M637 357L668 365M637 355L672 397M637 420L668 367"/>
  <path class="l" d="M698 365L821 351M698 365L949 351M698 365L949 364M698 399L821 421M686 421L952 424M824 351L951 351M824 362L951 364M826 376L950 376M826 376L946 406M826 399L952 473M825 421L946 406"/>
  <path class="m" d="M698 365L949 376M698 366L946 406M694 397L946 406"/>
  <path class="ol" d="M698 365L826 376M694 397L826 399"/>
  <!-- Germany -->
  <path class="l" d="M315 458L401 460M318 471L400 472M317 484L401 484M401 460L481 457M400 472L481 457M401 484L480 481M485 457L624 467M484 481L673 474M630 467L680 448"/>
  <path class="m" d="M628 445L673 474"/>
  <path class="l" d="M688 448L953 449M688 448L821 467M695 474L821 467M695 474L953 449M695 474L951 473M695 474L953 493M825 451L953 449M825 451L951 473M825 467L951 473M825 493L953 493M825 493L951 473"/>
  <path class="m" d="M695 474L818 451M695 474L818 493"/>
  <!-- food aid -->
  <path class="bl" d="M660 268L812 519" marker-end="url(#ab)"/>
  <path class="bl" d="M660 268L943 521" marker-end="url(#ab)"/>
  <line x1="649" y1="276" x2="649" y2="537" stroke="#a3a3ea" stroke-width="2"/>
  <!-- third world -->
  <path class="l" d="M657 543L685 532M657 548L685 558M689 532L822 533M689 558L821 558M830 533L953 530M830 533L954 562M829 558L952 546M829 558L954 562"/>
  <!-- USSR -->
  <path class="l" d="M343 603L475 614M343 645L475 643M480 614L678 612M480 643L678 614M480 643L680 644M618 636L680 644M692 612L820 608M688 644L822 639M688 644L953 662M832 608L952 592M832 608L953 618M830 639L953 640"/>
  <!-- export arrows -->
  <line x1="493" y1="155" x2="533" y2="140" stroke="#ff0000" stroke-width="2.5" marker-end="url(#ar)"/>
  <line x1="578" y1="655" x2="617" y2="637" stroke="#ff0000" stroke-width="2.5" marker-end="url(#ar)"/>
</g>

<!-- nodes -->
<g id="nodes">
  <g id="ca-armazem"><circle cx="476" cy="158" r="17" fill="#c00000"/></g>
  <g id="bolsa-winn"><use href="#star" transform="translate(546,183) scale(2.4)" fill="#c55a11"/><text x="546" y="180" text-anchor="middle" style="font-size:9px">Bolsa</text><text x="546" y="191" text-anchor="middle" style="font-size:9px">Winn</text></g>
  <text x="541" y="146" style="font-size:8.5px;font-weight:bold;fill:#ff0000">para URSS, China...</text>
  <g id="ca-moagem"><circle class="ov" cx="680" cy="160" r="4"/><circle class="ov" cx="680" cy="182" r="8"/></g>
  <g id="ca-varejo"><circle class="bv" cx="955" cy="160" r="5"/><circle class="bv" cx="955" cy="175" r="5"/><circle class="bv" cx="956" cy="191" r="5"/></g>

  <g id="us-pontos"><circle class="od" cx="396" cy="216" r="3.5"/><circle class="od" cx="396" cy="232" r="3.5"/><circle class="od" cx="396" cy="249" r="3.5"/><circle class="od" cx="396" cy="267" r="3.5"/><circle class="od" cx="396" cy="285" r="3.5"/><circle class="od" cx="396" cy="297" r="3.5"/><circle class="od" cx="396" cy="320" r="3.5"/></g>
  <g id="us-armazem"><circle class="gr" cx="476" cy="229" r="18"/><circle class="gr" cx="476" cy="263" r="11"/><circle class="gr" cx="478" cy="287" r="5"/><circle class="gr" cx="478" cy="303" r="5"/><circle class="gr" cx="478" cy="319" r="7"/></g>
  <g id="bolsa-chicago"><use href="#star" transform="translate(543,297) scale(4)" fill="#c55a11"/><text x="543" y="295" text-anchor="middle" style="font-size:12px">Bolsa</text><text x="543" y="309" text-anchor="middle" style="font-size:12px">Chicago</text></g>
  <g id="us-agencia"><rect class="ag" x="639" y="256" width="21" height="21"/></g>
  <g id="us-moagem"><circle class="ov" cx="681" cy="229" r="6"/><circle class="ov" cx="681" cy="253" r="12"/><circle class="ov" cx="681" cy="283" r="12"/><circle class="ov" cx="680" cy="305" r="7"/></g>
  <g id="us-industria"><circle class="pu" cx="823" cy="215" r="4"/><circle class="pu" cx="823" cy="230" r="6"/><circle class="ov" cx="823" cy="262" r="11"/><circle class="ov" cx="826" cy="310" r="8"/><circle class="pu" cx="826" cy="323" r="4"/></g>
  <g id="us-varejo"><circle class="bv" cx="956" cy="218" r="7"/><circle class="bv" cx="955" cy="240" r="4"/><circle class="bv" cx="956" cy="268" r="9"/><circle class="bv" cx="956" cy="290" r="6"/><circle class="bv" cx="956" cy="315" r="6"/></g>

  <g id="uk-pontos"><circle class="od" cx="399" cy="360" r="3.5"/><circle class="od" cx="398" cy="385" r="3.5"/><circle class="od" cx="397" cy="414" r="3"/></g>
  <g id="uk-armazem"><circle class="gr" cx="479" cy="381" r="5"/><circle class="gr" cx="480" cy="413" r="4"/><circle class="gr" cx="623" cy="343" r="16"/><circle class="gr" cx="624" cy="383" r="5"/><circle class="gr" cx="624" cy="400" r="5"/><circle class="gr" cx="623" cy="432" r="17"/></g>
  <g id="uk-moagem"><circle class="ov" cx="683" cy="365" r="15"/><circle class="ov" cx="683" cy="397" r="11"/><circle class="ov" cx="683" cy="421" r="4"/></g>
  <g id="uk-industria"><circle class="pu" cx="824" cy="351" r="4"/><circle class="pu" cx="824" cy="362" r="4"/><circle class="ov" cx="826" cy="376" r="10"/><circle class="ov" cx="826" cy="399" r="11"/><circle class="pu" cx="825" cy="421" r="9"/></g>
  <g id="uk-varejo"><circle class="bv" cx="956" cy="351" r="4"/><circle class="bv" cx="956" cy="364" r="4"/><circle class="bv" cx="957" cy="376" r="7"/><circle class="bv" cx="956" cy="406" r="11"/><circle class="bv" cx="957" cy="424" r="4"/></g>

  <g id="de-pontos"><circle class="od" cx="401" cy="460" r="3"/><circle class="od" cx="400" cy="472" r="3"/><circle class="od" cx="401" cy="484" r="3"/></g>
  <g id="de-armazem"><circle class="gr" cx="481" cy="457" r="5"/><circle class="gr" cx="480" cy="481" r="4"/><circle class="gr" cx="624" cy="467" r="5"/></g>
  <g id="de-moagem"><circle class="ov" cx="684" cy="448" r="4"/><circle class="ov" cx="684" cy="474" r="11"/></g>
  <g id="de-industria"><circle class="pu" cx="825" cy="451" r="7"/><circle class="pu" cx="825" cy="467" r="4"/><circle class="pu" cx="825" cy="493" r="7"/></g>
  <g id="de-varejo"><circle class="bv" cx="957" cy="449" r="4"/><circle class="bv" cx="957" cy="473" r="6"/><circle class="bv" cx="957" cy="493" r="4"/></g>

  <g id="tw-agencia"><rect class="ag" x="641" y="537" width="17" height="17"/><text x="649" y="563" text-anchor="middle" style="font-size:9px;fill:#7b7bd6">agências</text><text x="649" y="576" text-anchor="middle" style="font-size:9px;fill:#7b7bd6">estatais</text></g>
  <g id="tw-moagem"><circle class="ov" cx="685" cy="532" r="4"/><circle class="ov" cx="685" cy="558" r="4"/></g>
  <g id="tw-industria"><circle class="pu" cx="826" cy="533" r="4"/><circle class="pu" cx="825" cy="558" r="4"/></g>
  <g id="tw-varejo"><circle class="bv" cx="957" cy="530" r="4"/><circle class="bv" cx="956" cy="546" r="4"/><circle class="bv" cx="958" cy="562" r="4"/></g>
  <text x="827" y="522" style="font-size:9px;font-weight:bold;fill:#1f7bc1">ajuda alimentar</text>

  <g id="su-armazem"><circle class="gr" cx="475" cy="614" r="7"/><circle class="gr" cx="475" cy="643" r="7"/></g>
  <g id="su-moagem"><circle class="ov" cx="684" cy="612" r="8"/><circle class="ov" cx="684" cy="644" r="4"/></g>
  <g id="su-industria"><circle class="pu" cx="826" cy="608" r="6"/><circle class="pu" cx="826" cy="639" r="4"/></g>
  <g id="su-varejo"><circle class="bv" cx="956" cy="592" r="4"/><circle class="bv" cx="957" cy="618" r="4"/><circle class="bv" cx="957" cy="640" r="4"/><circle class="bv" cx="956" cy="662" r="4"/></g>
  <text x="535" y="666" style="font-size:8.5px;font-weight:bold;fill:#ff0000">do Canadá</text>
</g>

<!-- product braces -->
<g id="braces" fill="none" stroke-width="2">
  <path d="M241 672Q241 685 250 685H458Q462 685 462 695Q462 685 466 685H676Q683 685 683 672" stroke="#c9a227"/>
  <path d="M686 672Q686 685 693 685H752Q756 685 756 694Q756 685 760 685H818Q825 685 825 672" stroke="#8c8c8c"/>
  <path d="M829 672Q829 685 836 685H1016Q1020 685 1020 695Q1020 685 1024 685H1203" stroke="#d0671f"/>
</g>
<text x="462" y="714" text-anchor="middle" style="font-size:21px;font-weight:bold;fill:#a0820e">trigo</text>
<text x="760" y="717" text-anchor="middle" style="font-size:21px;font-weight:bold;fill:#808080">farinha</text>
<text x="1018" y="711" text-anchor="middle" style="font-size:16px;font-weight:bold;fill:#d0671f">pão, cerveja, biscoito, macarrão, cereal matinal,</text>
<text x="1015" y="732" text-anchor="middle" style="font-size:16px;font-weight:bold;fill:#d0671f">laticínios, carnes ...</text>
</svg>
